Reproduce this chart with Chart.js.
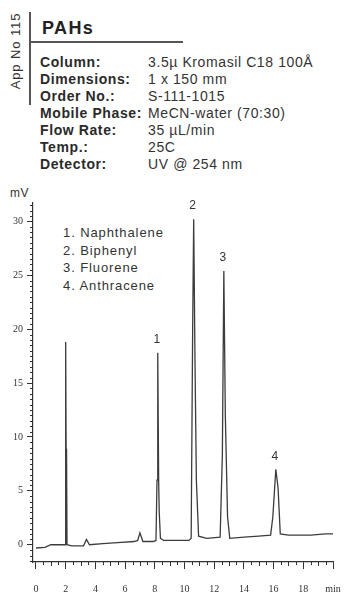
<!DOCTYPE html>
<html>
<head>
<meta charset="utf-8">
<script src="https://cdn.jsdelivr.net/npm/chart.js@4.4.1/dist/chart.umd.min.js"></script>
<style>
  body { margin: 0; width: 345px; height: 596px; background: #fff; position: relative; overflow: hidden;
         font-family: "Liberation Sans", Arial, sans-serif; color: #222; }
  .abs { position: absolute; white-space: nowrap; }
  #appno { left: 15px; top: 51px; font-size: 13px; letter-spacing: 0.9px; color: #333;
           transform: translate(-50%, -50%) rotate(-90deg); }
  #vline { left: 29px; top: 12px; width: 1.5px; height: 93px; background: #555; }
  #hline { left: 30px; top: 41px; width: 153px; height: 1.5px; background: #555; }
  #title { left: 42px; top: 19px; font-size: 18px; line-height: 18px; font-weight: bold; letter-spacing: 1.4px; }
  .rows { font-size: 14px; line-height: 17px; top: 54px; letter-spacing: 0.6px; }
  .rows div { height: 17px; }
  #keys { left: 40px; font-weight: bold; color: #2a2a2a; }
  #vals { left: 148px; color: #333; }
  #legend { left: 63px; top: 224px; font-size: 13px; line-height: 17.7px; color: #333; letter-spacing: 0.9px; }
  #unit { left: 10px; top: 186px; font-size: 12px; color: #333; letter-spacing: 0.5px; }
  #chart-box { position: absolute; left: 0; top: 180px; width: 345px; height: 416px; }
</style>
</head>
<body>
<div class="abs" id="appno">App No 115</div>
<div class="abs" id="vline"></div>
<div class="abs" id="title">PAHs</div>
<div class="abs" id="hline"></div>

<div class="abs rows" id="keys">
  <div>Column:</div>
  <div>Dimensions:</div>
  <div>Order No.:</div>
  <div>Mobile Phase:</div>
  <div>Flow Rate:</div>
  <div>Temp.:</div>
  <div>Detector:</div>
</div>
<div class="abs rows" id="vals">
  <div>3.5µ Kromasil C18 100Å</div>
  <div>1 x 150 mm</div>
  <div>S-111-1015</div>
  <div>MeCN-water (70:30)</div>
  <div>35 µL/min</div>
  <div>25C</div>
  <div>UV @ 254 nm</div>
</div>

<div class="abs" id="legend">
  <div>1. Naphthalene</div>
  <div>2. Biphenyl</div>
  <div>3. Fluorene</div>
  <div>4. Anthracene</div>
</div>
<div class="abs" id="unit">mV</div>

<div id="chart-box"><canvas id="chrom" width="345" height="416"></canvas></div>

<script>
// retention time (min) and detector signal (mV)
const times = [0.0, 0.6, 1.0, 1.96, 2.0, 2.03, 2.06, 2.09, 2.4, 3.2, 3.4, 3.6, 4.5, 5.5, 6.6, 6.85, 7.0, 7.2, 7.9,
  8.08, 8.15, 8.2, 8.26, 8.3, 8.38, 8.6, 10.3, 10.45, 10.55, 10.62, 10.7, 10.8, 10.95, 11.5,
  12.4, 12.55, 12.65, 12.75, 12.9, 13.05, 14.0, 15.0, 15.8, 15.95, 16.15, 16.3, 16.45, 17.0, 18.5, 19.5, 20.0];
const signal = [-0.3, -0.25, 0.0, 0.0, 18.8, 8.9, 8.5, 0.0, -0.1, -0.1, 0.5, 0.0, 0.1, 0.2, 0.3, 0.4, 1.1, 0.3, 0.3,
  0.4, 6.0, 17.8, 6.0, 3.0, 0.6, 0.4, 0.4, 0.6, 20.0, 30.2, 18.0, 6.0, 0.8, 0.6,
  0.7, 8.3, 25.4, 12.0, 2.6, 0.6, 0.7, 0.8, 0.9, 2.6, 7.0, 5.3, 1.0, 0.9, 0.9, 1.0, 1.0];

// numbered peaks
const peakNames = ['1', '2', '3', '4'];
const peakTimes = [8.2, 10.62, 12.65, 16.15];
const peakHeights = [17.8, 30.2, 25.4, 7.0];

const xTicks = ['0', '2', '4', '6', '8', '10', '12', '14', '16', '18', 'min'];

const inkColor = '#333';

// short minor ticks every 0.5 on both axes
const minorTicks = {
  id: 'minorTicks',
  afterDraw(chart) {
    const { ctx, chartArea, scales } = chart;
    const x = scales.x, y = scales.y;
    ctx.save();
    ctx.strokeStyle = inkColor;
    ctx.lineWidth = 1;
    ctx.beginPath();
    for (let v = 0; v < 20; v += 0.5) {
      if (v % 2 === 0) continue;
      const px = Math.round(x.getPixelForValue(v)) + 0.5;
      ctx.moveTo(px, chartArea.bottom);
      ctx.lineTo(px, chartArea.bottom + (v % 1 === 0 ? 4 : 3));
    }
    for (let v = -1.5; v <= 31.5; v += 0.5) {
      if (v % 5 === 0) continue;
      const py = Math.round(y.getPixelForValue(v)) + 0.5;
      ctx.moveTo(chartArea.left, py);
      ctx.lineTo(chartArea.left - 3, py);
    }
    ctx.stroke();
    ctx.restore();
  }
};

// peak numbers above each apex
const peakLabels = {
  id: 'peakLabels',
  afterDatasetsDraw(chart) {
    const { ctx, scales } = chart;
    ctx.save();
    ctx.fillStyle = inkColor;
    ctx.font = '12px "Liberation Sans", Arial, sans-serif';
    ctx.textAlign = 'center';
    ctx.textBaseline = 'middle';
    peakNames.forEach((name, i) => {
      const px = scales.x.getPixelForValue(peakTimes[i]);
      const py = scales.y.getPixelForValue(peakHeights[i]);
      ctx.fillText(name, px - 1, py - 13);
    });
    ctx.restore();
  }
};

new Chart(document.getElementById('chrom'), {
  type: 'line',
  data: {
    datasets: [{
      data: times.map((t, i) => ({ x: t, y: signal[i] })),
      borderColor: '#3c3c3c',
      borderWidth: 1.3,
      pointRadius: 0,
      tension: 0
    }]
  },
  options: {
    responsive: false,
    animation: false,
    events: [],
    layout: { padding: { top: 23, right: 12, left: 0, bottom: 0 } },
    plugins: { legend: { display: false }, tooltip: { enabled: false } },
    scales: {
      x: {
        type: 'linear',
        min: -0.2,
        max: 20,
        border: { color: inkColor, width: 1.2 },
        grid: { drawOnChartArea: false, color: inkColor, tickLength: 7 },
        ticks: {
          stepSize: 2,
          includeBounds: false,
          padding: 14,
          maxRotation: 0,
          color: inkColor,
          font: { size: 10, family: '"Liberation Serif", serif' },
          callback: (v) => xTicks[Math.round(v / 2)]
        },
        afterFit(scale) {
          // the big label gap should not eat into the plot width
          scale.height = 34;
          scale.paddingLeft = 0;
          scale.paddingRight = 8;
        }
      },
      y: {
        min: -1.6,
        max: 31.7,
        border: { color: inkColor, width: 1.2 },
        grid: { drawOnChartArea: false, color: inkColor, tickLength: 6 },
        ticks: {
          stepSize: 5,
          includeBounds: false,
          padding: 4,
          color: inkColor,
          font: { size: 10, family: '"Liberation Serif", serif' }
        },
        afterFit(scale) { scale.width = 33; }
      }
    }
  },
  plugins: [minorTicks, peakLabels]
});
</script>
</body>
</html>
